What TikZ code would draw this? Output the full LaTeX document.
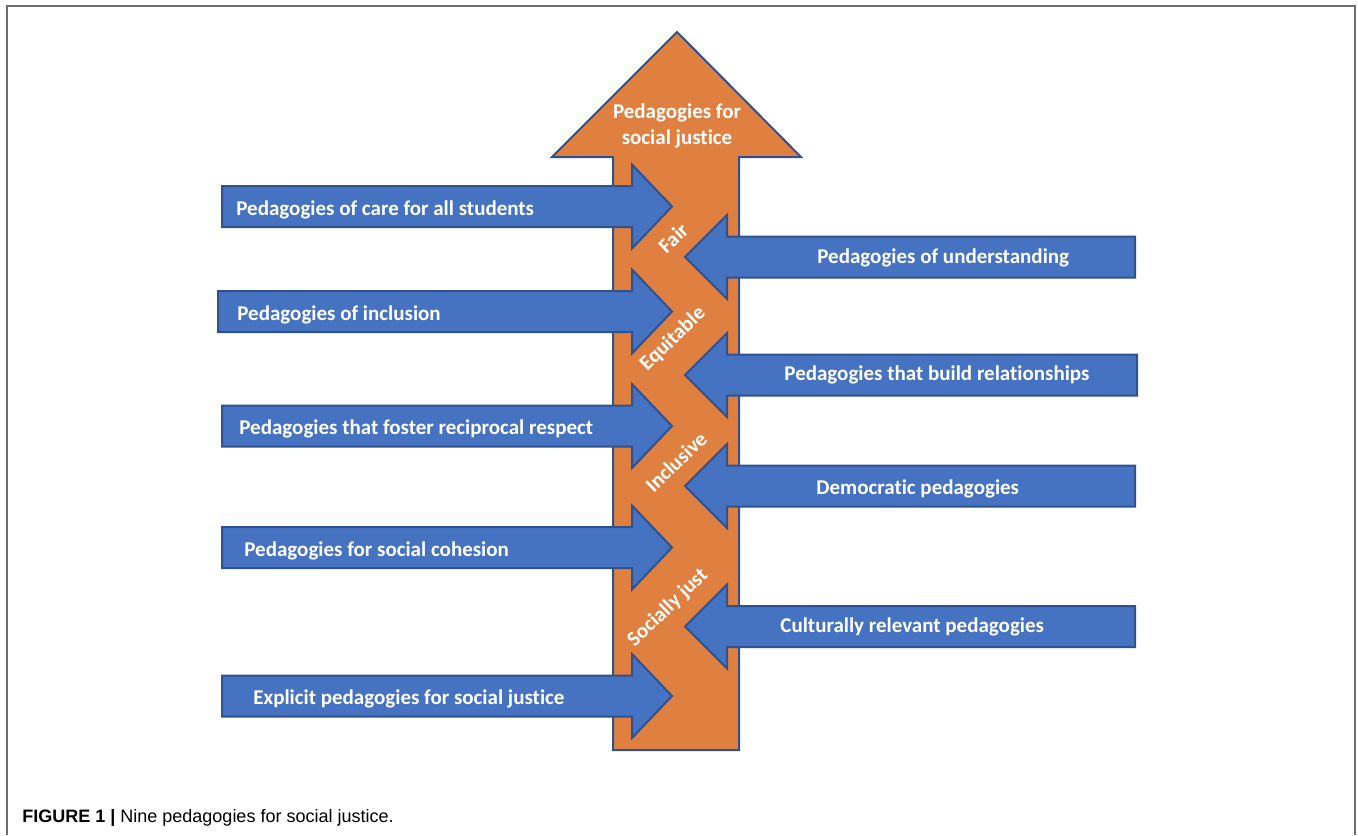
\documentclass[tikz,border=0pt]{standalone}
\usepackage{fontspec}
\setmainfont{Carlito}[RawFeature=-liga]
\newfontfamily\capfont{Liberation Sans}
\usepackage{tikz}
\definecolor{pedorange}{RGB}{224,128,64}
\definecolor{pedblue}{RGB}{70,114,194}
\definecolor{pededge}{RGB}{47,82,143}
\definecolor{framegray}{RGB}{110,110,110}
\newcommand{\toright}[2]{\filldraw[blockarrow] (#1,#2-20.5) -- (632,#2-20.5) -- (632,#2-42) -- (672,#2) -- (632,#2+42) -- (632,#2+20.5) -- (#1,#2+20.5) -- cycle;}
\newcommand{\toleft}[2]{\filldraw[blockarrow] (#1,#2-20.5) -- (727,#2-20.5) -- (727,#2-42) -- (685,#2) -- (727,#2+42) -- (727,#2+20.5) -- (#1,#2+20.5) -- cycle;}
\tikzset{
  blockarrow/.style={fill=pedblue,draw=pededge,line width=1pt,line join=miter},
  pedlabel/.style={text=white,font=\bfseries\fontsize{10.5}{12.6}\selectfont,inner sep=0pt,anchor=west},
  quality/.style={text=white,font=\bfseries\fontsize{10.5}{12.6}\selectfont,inner sep=0pt,rotate=44}
}

\begin{document}
\begin{tikzpicture}[x=0.5pt,y=-0.5pt]
    \useasboundingbox (0,0) rectangle (1358,835);
    \draw[framegray,line width=1pt] (7,835) -- (7,6) -- (1355,6) -- (1355,835);

    \filldraw[fill=pedorange,draw=pededge,line width=1pt] (613,750) -- (613,157) -- (552,157) -- (677,32) -- (801,157) -- (739,157) -- (739,750) -- cycle;
    \node[text=white,font=\bfseries\fontsize{10.5}{13}\selectfont,align=center] (goal) at (677,126) {Pedagogies for\\social justice};

    \toright{222}{206.5}
    \toright{218}{311.5}
    \toright{222}{426}
    \toright{222}{547.5}
    \toright{222}{696}

    \toleft{1135}{257}
    \toleft{1137}{375}
    \toleft{1135}{486}
    \toleft{1135}{626.5}

    \node[pedlabel] (care) at (236,210) {Pedagogies of care for all students};
    \node[pedlabel] (inclusion) at (237,315) {Pedagogies of inclusion};
    \node[pedlabel] (respect) at (239,429) {Pedagogies that foster reciprocal respect};
    \node[pedlabel] (cohesion) at (244,551) {Pedagogies for social cohesion};
    \node[pedlabel] (explicit) at (253,699) {Explicit pedagogies for social justice};

    \node[pedlabel] (understanding) at (817,258) {Pedagogies of understanding};
    \node[pedlabel] (relationships) at (784,375) {Pedagogies that build relationships};
    \node[pedlabel] (democratic) at (816,489) {Democratic pedagogies};
    \node[pedlabel] (culturally) at (780,627) {Culturally relevant pedagogies};

    \node[quality] (fair) at (673,238) {Fair};
    \node[quality] (equitable) at (673,339) {Equitable};
    \node[quality] (inclusive) at (676,462) {Inclusive};
    \node[quality] (sociallyjust) at (668,608) {Socially just};

    \node[anchor=west,inner sep=0pt,font=\capfont\fontsize{9}{11}\selectfont] (caption) at (22,818) {\textbf{FIGURE 1 |} Nine pedagogies for social justice.};
\end{tikzpicture}
\end{document}
